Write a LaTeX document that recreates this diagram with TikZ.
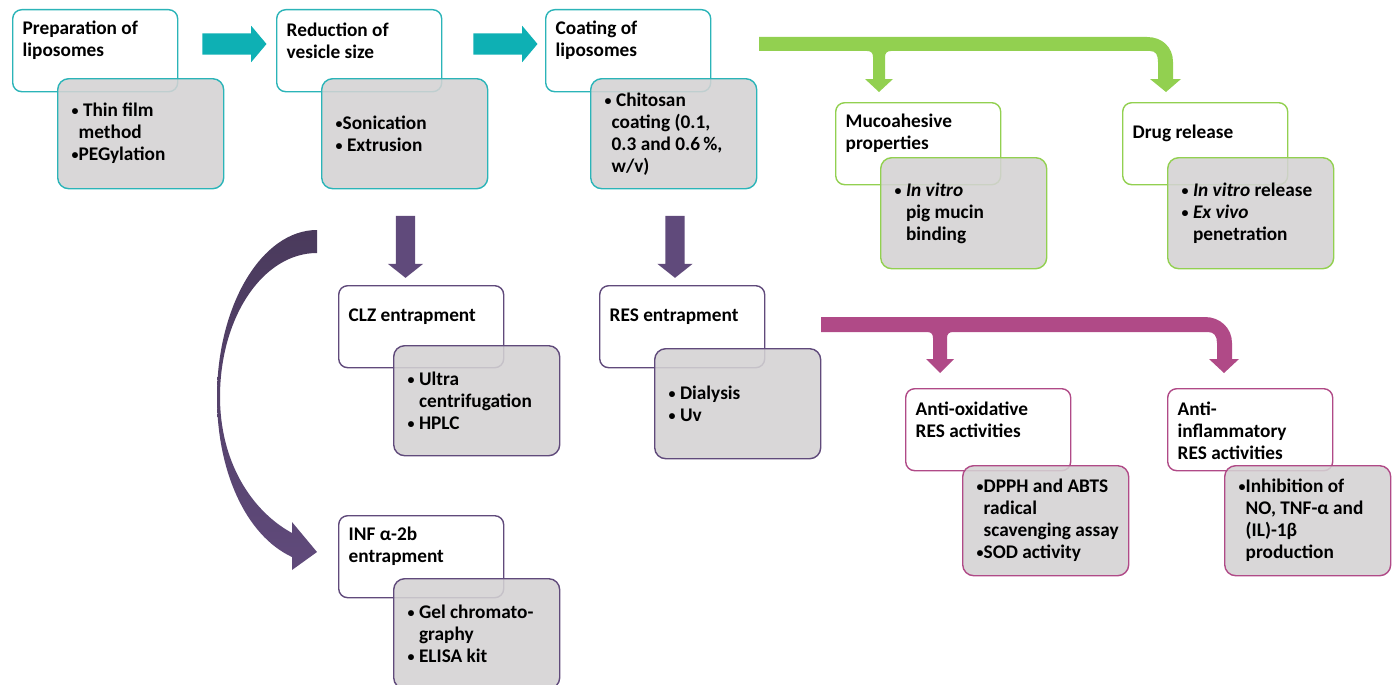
\documentclass[tikz,border=0pt]{standalone}
\usepackage{fontspec}
\setmainfont{Carlito}
\usetikzlibrary{calc,shapes.arrows}
\definecolor{flowteal}{RGB}{14,176,180}
\definecolor{tealline}{RGB}{43,180,184}
\definecolor{flowgreen}{RGB}{146,208,80}
\definecolor{flowpurple}{RGB}{96,74,123}
\definecolor{purpledark}{RGB}{74,58,92}
\definecolor{flowpink}{RGB}{176,74,135}
\definecolor{boxgray}{RGB}{212,210,211}
\hyphenpenalty=10000
\newcommand\bul{\raisebox{1pt}{\fontsize{14}{22}\selectfont•}}
\newcommand\ind{\phantom{\bul}}
\newcommand\headtext[2][62pt]{\parbox[b][82pt][t]{145pt}{\parbox[c][#1][c]{145pt}{#2}}}
\tikzset{
  every picture/.append style={line join=round},
  every node/.style={font=\fontsize{19.3}{22}\selectfont\bfseries},
  headbox/.style={draw=#1, fill=white, line width=1.4pt, rounded corners=9pt,
    anchor=north west, inner xsep=10pt, inner ysep=0pt,
    minimum width=165pt, minimum height=82pt},
  detbox/.style={draw=#1, fill=boxgray, fill opacity=.88, text opacity=1,
    line width=1.4pt, rounded corners=11pt, anchor=north west,
    inner xsep=14pt, inner ysep=0pt, minimum height=110pt,
    text width=138pt, align=flush left},
  blockarrow/.style={single arrow, fill=#1, draw=none, inner xsep=0pt,
    inner ysep=10.5pt, single arrow head extend=7.5pt, single arrow tip angle=100},
  downarrow/.style={blockarrow=#1, rotate=-90, inner ysep=9.5pt,
    single arrow head extend=8pt, single arrow tip angle=103, minimum height=62pt}
}
\begin{document}
\begin{tikzpicture}[x=1pt,y=-1pt]
  \useasboundingbox (0,0) rectangle (1397,685);

  % liposome preparation chain
  \node[headbox=tealline] (prep) at (12,9) {\headtext{Preparation of\\liposomes}};
  \node[detbox=tealline] (prepdet) at ($(prep.north west)+(45,69)$)
    {\bul\ Thin film\\\ind method\\\bul PEGylation};
  \node[headbox=tealline] (reduce) at (276,9) {\headtext{Reduction of\\vesicle size}};
  \node[detbox=tealline] (reducedet) at ($(reduce.north west)+(45,69)$)
    {\bul Sonication\\\bul\ Extrusion};
  \node[headbox=tealline] (coat) at (545,9) {\headtext{Coating of\\liposomes}};
  \node[detbox=tealline] (coatdet) at ($(coat.north west)+(45,69)$)
    {\bul\ Chitosan\\\ind coating (0.1,\\\ind 0.3 and 0.6\,\%,\\\ind w/v)};

  \node[blockarrow=flowteal, minimum height=64pt] (arr1) at (230,44) {};
  \node[blockarrow=flowteal, minimum height=64pt] (arr2) at (501,44) {};

  % characterisation of coated liposomes
  \fill[flowgreen] (759,37) -- (1147,37) .. controls (1162,37) and (1173,47) .. (1173,62)
    -- (1173,79) -- (1181,79) -- (1166,92) -- (1150,79) -- (1158,79) -- (1158,62)
    .. controls (1158,55) and (1156,51) .. (1150,51) -- (891,51)
    .. controls (887,51) and (885,53) .. (885,57) -- (885,79) -- (893,79) -- (879,92)
    -- (865,79) -- (873,79) -- (873,57) .. controls (873,53) and (871,51) .. (867,51)
    -- (759,51) -- cycle;

  \node[headbox=flowgreen] (muco) at (835,102) {\headtext{Mucoahesive\\properties}};
  \node[detbox=flowgreen, minimum height=111pt] (mucodet) at ($(muco.north west)+(45,55)$)
    {\bul\ \textit{In vitro}\\\ind\ pig mucin\\\ind\ binding};
  \node[headbox=flowgreen] (release) at (1122,102) {\headtext{Drug release}};
  \node[detbox=flowgreen, minimum height=111pt] (releasedet) at ($(release.north west)+(45,55)$)
    {\bul\ \textit{In vitro} release\\\bul\ \textit{Ex vivo}\\\ind\ penetration};

  % drug entrapment
  \node[downarrow=flowpurple] (down1) at (405.5,243) {};
  \node[downarrow=flowpurple] (down2) at (675,243) {};
  \shade[top color=purpledark, bottom color=flowpurple]
    (317,230) .. controls (262,230) and (217,305) .. (217,397)
    .. controls (217,470) and (245,535) .. (292,557) -- (292,570) -- (317,552)
    -- (292,522) -- (292,533) .. controls (250,510) and (220,460) .. (220,397)
    .. controls (220,317) and (263,253) .. (317,253) -- cycle;

  \node[headbox=flowpurple] (clz) at (338,285) {\headtext{CLZ entrapment}};
  \node[detbox=flowpurple] (clzdet) at ($(clz.north west)+(55,60)$)
    {\bul\ Ultra\\\ind\ centrifugation\\\bul\ HPLC};
  \node[headbox=flowpurple] (res) at (599,285) {\headtext{RES entrapment}};
  \node[detbox=flowpurple] (resdet) at ($(res.north west)+(55,63)$)
    {\bul\ Dialysis\\\bul\ Uv};
  \node[headbox=flowpurple] (inf) at (338,515) {\headtext{INF α-2b\\entrapment}};
  \node[detbox=flowpurple] (infdet) at ($(inf.north west)+(55,63)$)
    {\bul\ Gel chromato-\\\ind\ graphy\\\bul\ ELISA kit};

  % RES activities
  \fill[flowpink] (821,317) -- (1205,317) .. controls (1220,317) and (1232,328) .. (1232,343)
    -- (1232,359) -- (1239,359) -- (1224,373) -- (1209,359) -- (1217,359) -- (1217,343)
    .. controls (1217,336) and (1214,332) .. (1208,332) -- (953,332)
    .. controls (949,332) and (947,334) .. (947,338) -- (947,359) -- (954,359) -- (940,373)
    -- (926,359) -- (933,359) -- (933,338) .. controls (933,334) and (931,332) .. (927,332)
    -- (821,332) -- cycle;

  \node[headbox=flowpink] (antiox) at (905,388) {\headtext{Anti-oxidative\\RES activities}};
  \node[detbox=flowpink] (antioxdet) at ($(antiox.north west)+(57,77)$)
    {\bul DPPH and ABTS\\\ind radical\\\ind\mbox{scavenging assay}\\\bul SOD activity};
  \node[headbox=flowpink] (antiinf) at (1167,388)
    {\headtext[84pt]{Anti-\\inflammatory\\RES activities}};
  \node[detbox=flowpink] (antiinfdet) at ($(antiinf.north west)+(57,77)$)
    {\bul Inhibition of\\\ind NO, TNF-α and\\\ind (IL)-1β\\\ind production};
\end{tikzpicture}
\end{document}
